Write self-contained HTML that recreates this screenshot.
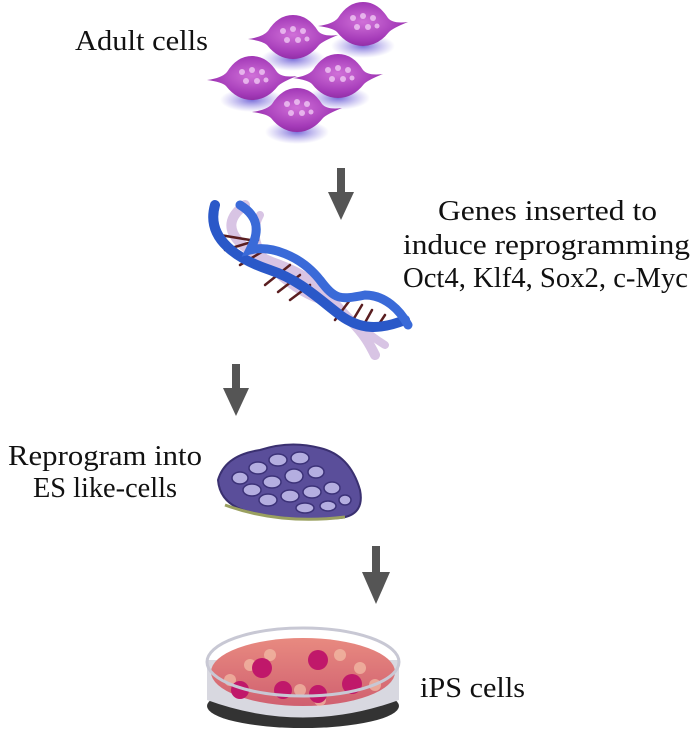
<!DOCTYPE html>
<html><head><meta charset="utf-8"><style>
html,body{margin:0;padding:0;background:#fff}
svg{display:block}
text{font-family:"Liberation Serif",serif;fill:#111;font-size:29px}
</style></head><body>
<svg width="698" height="738" viewBox="0 0 698 738" xmlns="http://www.w3.org/2000/svg">
<defs>
<radialGradient id="cell" cx="50%" cy="45%" r="60%">
<stop offset="0" stop-color="#d070d8"/><stop offset="0.7" stop-color="#a43ab8"/><stop offset="1" stop-color="#8a2aa0"/>
</radialGradient>
<radialGradient id="sh" cx="50%" cy="50%" r="50%">
<stop offset="0" stop-color="#5a4ad0" stop-opacity="0.8"/><stop offset="1" stop-color="#8070e0" stop-opacity="0"/>
</radialGradient>
<g id="c">
<ellipse cx="0" cy="22" rx="32" ry="12" fill="url(#sh)"/>
<path d="M-45,2 Q-30,0 -25,-6 Q-15,-22 0,-22 Q15,-22 25,-6 Q30,0 45,-2 Q30,4 26,8 Q15,22 0,22 Q-15,22 -26,8 Q-30,4 -45,2Z" fill="url(#cell)"/>
<g fill="#f0c8f4" opacity="0.8"><circle cx="-10" cy="-6" r="3"/><circle cx="0" cy="-8" r="3"/><circle cx="10" cy="-6" r="3"/><circle cx="-6" cy="3" r="3"/><circle cx="5" cy="3" r="3"/><circle cx="14" cy="2" r="2.5"/></g>
</g>
<linearGradient id="dish" x1="0" y1="0" x2="0" y2="1"><stop offset="0" stop-color="#e88a80"/><stop offset="1" stop-color="#d06070"/></linearGradient>
</defs>

<text x="75" y="50" textLength="133" lengthAdjust="spacingAndGlyphs">Adult cells</text>
<use href="#c" x="293" y="37"/>
<use href="#c" x="363" y="24"/>
<use href="#c" x="252" y="78"/>
<use href="#c" x="338" y="76"/>
<use href="#c" x="297" y="110"/>

<!-- arrows -->
<g fill="#555">
<rect x="337" y="168" width="8" height="26"/><polygon points="328,192 354,192 341,220"/>
<rect x="232" y="364" width="8" height="26"/><polygon points="223,388 249,388 236,416"/>
<rect x="372" y="546" width="8" height="28"/><polygon points="362,572 390,572 376,604"/>
</g>

<!-- DNA -->
<g fill="none" stroke-linecap="round">
<path d="M245,205 C210,230 250,255 280,265 C320,280 330,300 350,320 C365,335 370,345 375,355" stroke="#d8c4e4" stroke-width="10"/>
<path d="M260,215 C240,250 290,290 320,300 C345,310 360,330 385,345" stroke="#d8c4e4" stroke-width="8"/>
<g stroke="#5a1e20" stroke-width="2.5">
<line x1="220" y1="235" x2="250" y2="240"/><line x1="225" y1="250" x2="258" y2="240"/><line x1="240" y1="265" x2="265" y2="250"/>
<line x1="265" y1="285" x2="290" y2="265"/><line x1="278" y1="292" x2="300" y2="275"/><line x1="290" y1="300" x2="310" y2="285"/>
<line x1="335" y1="320" x2="350" y2="300"/><line x1="350" y1="325" x2="362" y2="305"/><line x1="362" y1="328" x2="372" y2="310"/><line x1="375" y1="330" x2="385" y2="315"/>
</g>
<path d="M215,205 C205,240 240,260 270,270 C300,280 320,300 340,315 C360,330 380,330 405,320" stroke="#2a58c8" stroke-width="10"/>
<path d="M240,205 C265,220 255,240 250,250 C270,245 300,255 320,280 C335,300 340,300 365,295 C385,295 400,310 408,325" stroke="#3a6ad8" stroke-width="9"/>
</g>

<text x="438" y="220" textLength="219" lengthAdjust="spacingAndGlyphs">Genes inserted to</text>
<text x="403" y="254" textLength="287" lengthAdjust="spacingAndGlyphs">induce reprogramming</text>
<text x="403" y="287" textLength="285" lengthAdjust="spacingAndGlyphs">Oct4, Klf4, Sox2, c-Myc</text>

<text x="8" y="465" textLength="194" lengthAdjust="spacingAndGlyphs">Reprogram into</text>
<text x="33" y="497" textLength="144" lengthAdjust="spacingAndGlyphs">ES like-cells</text>

<!-- ES cell colony -->
<path d="M218,480 Q225,455 260,450 Q290,440 320,448 Q350,455 360,490 Q365,515 340,518 Q290,522 250,512 Q220,505 218,480Z" fill="#5a4e9a" stroke="#3a3070" stroke-width="2"/>
<path d="M225,505 Q280,525 345,517" stroke="#9aa060" stroke-width="3" fill="none"/>
<g fill="#b4aee0" stroke="#3c3278" stroke-width="1.5">
<ellipse cx="240" cy="478" rx="8" ry="6"/><ellipse cx="258" cy="468" rx="9" ry="6"/><ellipse cx="278" cy="460" rx="9" ry="6"/><ellipse cx="300" cy="458" rx="9" ry="6"/>
<ellipse cx="252" cy="490" rx="9" ry="6"/><ellipse cx="272" cy="482" rx="9" ry="6"/><ellipse cx="294" cy="476" rx="9" ry="7"/><ellipse cx="316" cy="472" rx="8" ry="6"/>
<ellipse cx="268" cy="500" rx="9" ry="6"/><ellipse cx="290" cy="496" rx="9" ry="6"/><ellipse cx="312" cy="492" rx="9" ry="6"/><ellipse cx="332" cy="488" rx="8" ry="6"/>
<ellipse cx="305" cy="508" rx="9" ry="5"/><ellipse cx="328" cy="506" rx="8" ry="5"/><ellipse cx="345" cy="500" rx="6" ry="5"/>
</g>

<!-- petri dish -->
<ellipse cx="303" cy="706" rx="96" ry="22" fill="#333"/>
<path d="M207,660 L207,700 Q303,735 399,700 L399,660Z" fill="#d8d8e0"/>
<ellipse cx="303" cy="672" rx="92" ry="34" fill="url(#dish)"/>
<g fill="#f4c0a8" opacity="0.7">
<circle cx="250" cy="665" r="6"/><circle cx="270" cy="655" r="6"/><circle cx="340" cy="655" r="6"/><circle cx="360" cy="668" r="6"/><circle cx="300" cy="690" r="6"/><circle cx="230" cy="680" r="6"/><circle cx="375" cy="685" r="6"/><circle cx="320" cy="700" r="6"/>
</g>
<g fill="#c0186a">
<circle cx="262" cy="668" r="10"/><circle cx="318" cy="660" r="10"/><circle cx="352" cy="684" r="10"/><circle cx="283" cy="690" r="9"/><circle cx="240" cy="690" r="9"/><circle cx="318" cy="694" r="9"/>
</g>
<ellipse cx="303" cy="662" rx="96" ry="34" fill="none" stroke="#c8c8d4" stroke-width="3"/>
<text x="420" y="697" textLength="105" lengthAdjust="spacingAndGlyphs">iPS cells</text>
</svg>
</body></html>
